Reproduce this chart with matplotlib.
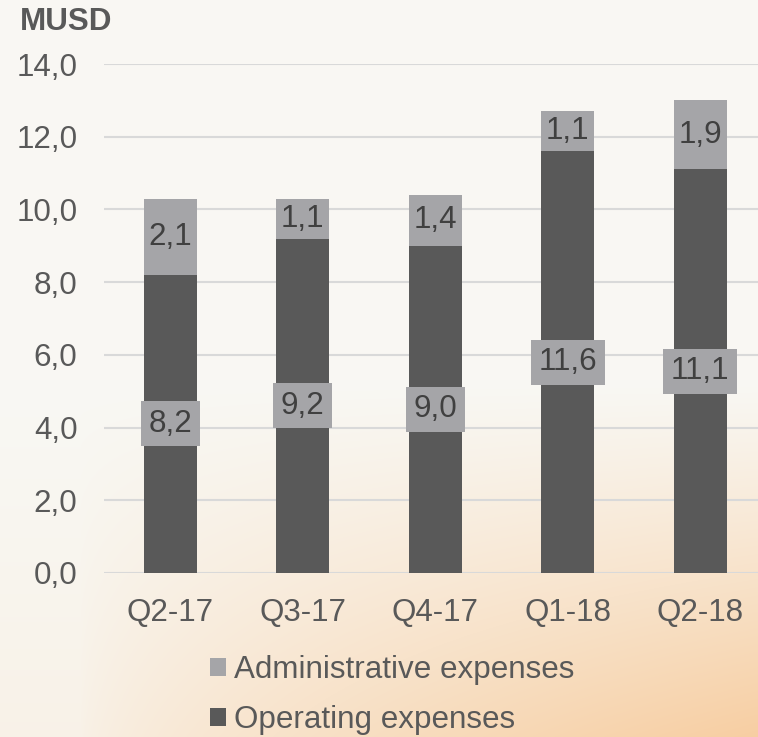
import numpy as np
import matplotlib
matplotlib.use("Agg")
import matplotlib.pyplot as plt
from matplotlib.patches import Patch

categories = ["Q2-17", "Q3-17", "Q4-17", "Q1-18", "Q2-18"]
operating = [8.2, 9.2, 9.0, 11.6, 11.1]
administrative = [2.1, 1.1, 1.4, 1.1, 1.9]
yticks = [0, 2, 4, 6, 8, 10, 12, 14]

C_OP = "#595959"
C_ADM = "#a5a5a8"
C_TXT = "#404040"
C_TICK = "#595959"
FS = 22.6

plt.rcParams['font.family'] = ['Liberation Sans', 'DejaVu Sans']

W, H = 758, 737
fig = plt.figure(figsize=(W / 100, H / 100), dpi=100)

# background gradient
bg = fig.add_axes([0, 0, 1, 1], zorder=-10)
yy, xx = np.mgrid[0:H, 0:W].astype(float)
top = np.array([249, 248, 244]) / 255
warm = np.array([247, 206, 162]) / 255
wy = np.clip((yy - 380) / 357, 0, 1) ** 1.1
wx = np.clip((xx - 80) / 678, 0, 1) ** 0.7
w = wy * (0.15 + 0.85 * wx)
img = top[None, None, :] * (1 - w[..., None]) + warm[None, None, :] * w[..., None]
bg.imshow(img, aspect='auto', extent=[0, 1, 0, 1], origin='upper')
bg.axis('off')

ax = fig.add_axes([104 / W, 164 / H, (W - 104) / W, 509 / H])
ax.patch.set_alpha(0)
x = np.arange(len(categories))
bw = 0.4
ax.bar(x, operating, bw, color=C_OP, zorder=3, label="Operating expenses")
ax.bar(x, administrative, bw, bottom=operating, color=C_ADM, zorder=3,
       label="Administrative expenses")

ax.set_xlim(-0.5, -0.5 + (W - 104) / 132.5)
ax.set_ylim(0, 14)
ax.set_yticks(yticks)
ax.set_yticklabels([f"{v:.1f}".replace('.', ',') for v in yticks])
ax.set_xticks(x)
ax.set_xticklabels(categories)
ax.tick_params(axis='both', length=0, labelsize=FS, colors=C_TICK)
ax.tick_params(axis='y', pad=19)
ax.tick_params(axis='x', pad=18)
for s in ax.spines.values():
    s.set_visible(False)
ax.grid(axis='y', color='#d9d9d9', linewidth=1.5, zorder=0)
ax.set_axisbelow(True)

fmt = lambda v: f"{v:.1f}".replace('.', ',')
for i in range(len(categories)):
    ax.text(x[i], operating[i] / 2, fmt(operating[i]), ha='center', va='center',
            fontsize=FS, color=C_TXT, zorder=5,
            bbox=dict(boxstyle='square,pad=0.24', facecolor=C_ADM, edgecolor='none'))
    ax.text(x[i], operating[i] + administrative[i] / 2, fmt(administrative[i]),
            ha='center', va='center', fontsize=FS, color=C_TXT, zorder=5)

fig.text(20 / W, 1 - 22 / H, "MUSD", fontsize=FS, fontweight='bold',
         color=C_TICK, ha='left', va='center')

handles = [Patch(facecolor=C_ADM, edgecolor='none'), Patch(facecolor=C_OP, edgecolor='none')]
fig.legend(handles, ["Administrative expenses", "Operating expenses"],
           loc='center', bbox_to_anchor=(392 / W, 1 - 695 / H), ncol=1,
           frameon=False, fontsize=FS, labelcolor=C_TICK,
           handlelength=0.52, handleheight=0.52, handletextpad=0.26,
           labelspacing=0.65, borderpad=0)

fig.savefig("out.png", dpi=100)
